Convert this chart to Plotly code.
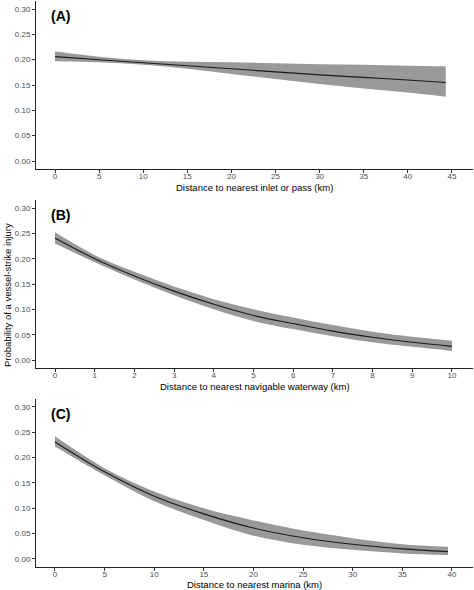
import plotly.graph_objects as go
from plotly.subplots import make_subplots

# (A) distance to nearest inlet or pass (km)
inlet_km = [0, 5, 10, 15, 20, 25, 30, 35, 40, 44.3]
inlet_fit = [0.206, 0.200, 0.194, 0.188, 0.182, 0.176, 0.170, 0.165, 0.160, 0.155]
inlet_lo = [0.197, 0.195, 0.190, 0.182, 0.172, 0.162, 0.152, 0.143, 0.135, 0.127]
inlet_hi = [0.216, 0.206, 0.199, 0.196, 0.195, 0.193, 0.191, 0.190, 0.188, 0.187]

# (B) distance to nearest navigable waterway (km)
water_km = [0, 1, 2, 3, 4, 5, 6, 7, 8, 9, 10]
water_fit = [0.241, 0.200, 0.166, 0.136, 0.110, 0.088, 0.072, 0.057, 0.045, 0.035, 0.027]
water_lo = [0.230, 0.193, 0.159, 0.128, 0.100, 0.077, 0.061, 0.047, 0.035, 0.026, 0.018]
water_hi = [0.252, 0.207, 0.174, 0.145, 0.120, 0.100, 0.084, 0.069, 0.056, 0.046, 0.038]

# (C) distance to nearest marina (km)
marina_km = [0, 5, 10, 15, 20, 25, 30, 35, 39.6]
marina_fit = [0.231, 0.172, 0.124, 0.089, 0.061, 0.042, 0.029, 0.020, 0.0145]
marina_lo = [0.222, 0.165, 0.114, 0.077, 0.046, 0.028, 0.018, 0.011, 0.008]
marina_hi = [0.242, 0.179, 0.133, 0.100, 0.076, 0.056, 0.041, 0.029, 0.024]

panels = [
    ("(A)", "Distance to nearest inlet or pass (km)", inlet_km, inlet_fit, inlet_lo, inlet_hi, 5),
    ("(B)", "Distance to nearest navigable waterway (km)", water_km, water_fit, water_lo, water_hi, 1),
    ("(C)", "Distance to nearest marina (km)", marina_km, marina_fit, marina_lo, marina_hi, 5),
]

x_ranges = [[-2.154, 47.39], [-0.479, 10.53], [-1.914, 42.12]]
y_domains = [[0.7142, 0.9976], [0.3769, 0.6603], [0.0397, 0.3231]]
title_y = [0.6830, 0.3446, 0.0085]

FONT = "Liberation Sans, Arial, sans-serif"

fig = make_subplots(rows=3, cols=1)

for i, (tag, xtitle, xs, fit, lo, hi, dt) in enumerate(panels):
    r = i + 1
    fig.add_trace(go.Scatter(x=xs, y=lo, mode="lines", line=dict(width=0, shape="spline"),
                             showlegend=False, hoverinfo="skip"), row=r, col=1)
    fig.add_trace(go.Scatter(x=xs, y=hi, mode="lines", line=dict(width=0, shape="spline"),
                             fill="tonexty", fillcolor="#999999",
                             showlegend=False, hoverinfo="skip"), row=r, col=1)
    fig.add_trace(go.Scatter(x=xs, y=fit, mode="lines",
                             line=dict(color="#1a1a1a", width=1.1, shape="spline"),
                             showlegend=False), row=r, col=1)

    xa = "xaxis" if r == 1 else "xaxis%d" % r
    ya = "yaxis" if r == 1 else "yaxis%d" % r
    fig.layout[xa].update(domain=[0, 1], range=x_ranges[i], dtick=dt, tick0=0,
                          showline=True, linecolor="#222222", linewidth=1,
                          ticks="outside", ticklen=3, tickcolor="#333333",
                          ticklabelstandoff=-3,
                          tickfont=dict(size=8, color="#4d4d4d", family=FONT),
                          showgrid=False, zeroline=False)
    fig.layout[ya].update(domain=y_domains[i], range=[-0.015, 0.315], dtick=0.05, tick0=0,
                          tickformat=".2f",
                          showline=True, linecolor="#222222", linewidth=1,
                          ticks="outside", ticklen=3, tickcolor="#333333",
                          tickfont=dict(size=8, color="#4d4d4d", family=FONT),
                          showgrid=False, zeroline=False)

    xref = "x" if r == 1 else "x%d" % r
    yref = "y" if r == 1 else "y%d" % r
    fig.add_annotation(text="<b>%s</b>" % tag, xref=xref + " domain", yref=yref,
                       x=0.029, y=0.286, xanchor="left", yanchor="middle", showarrow=False,
                       font=dict(size=14, color="black", family=FONT))
    fig.add_annotation(text=xtitle, xref="paper", yref="paper", x=0.5, y=title_y[i],
                       xanchor="center", yanchor="middle", showarrow=False,
                       font=dict(size=9.5, color="black", family=FONT))

fig.add_annotation(text="Probability of a vessel-strike injury", xref="paper", yref="paper",
                   x=-0.0664, y=0.5, xanchor="center", yanchor="middle", textangle=-90,
                   showarrow=False, font=dict(size=9.5, color="black", family=FONT))

fig.update_layout(width=474, height=590, margin=dict(l=36, r=1, t=0, b=0),
                  plot_bgcolor="white", paper_bgcolor="white", showlegend=False)

# page body has a default 8px margin; drop it so the figure fills the window
fig.write_html("out.html", config={"displayModeBar": False},
               post_script="document.body.style.margin='0';")
